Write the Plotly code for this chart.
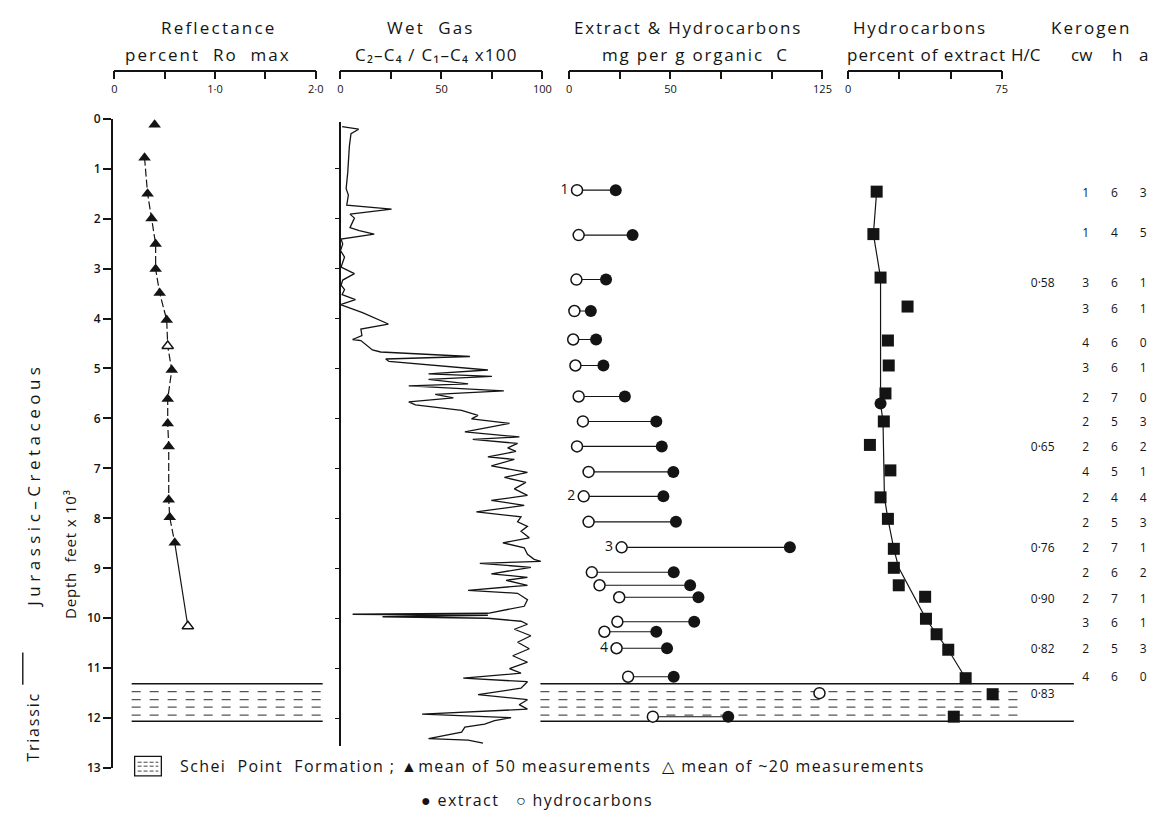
import plotly.graph_objects as go

# ---------------- data ----------------
DEPTH_TICKS = list(range(0, 14))

# Vitrinite reflectance (percent Ro max) vs depth (feet x 10^3)
ro_depth = [0.12, 0.78, 1.50, 2.00, 2.51, 3.01, 3.49, 4.03, 4.55, 5.03, 5.61, 6.10, 6.56, 7.63, 7.98, 8.49, 10.16]
ro_value = [0.40, 0.30, 0.33, 0.37, 0.41, 0.41, 0.45, 0.52, 0.53, 0.57, 0.53, 0.53, 0.54, 0.54, 0.55, 0.60, 0.73]
ro_basis = ["50", "50", "50", "50", "50", "50", "50", "50", "20", "50", "50", "50", "50", "50", "50", "50", "20"]
ro_major = [0, 1.0, 2.0]
ro_major_text = ["0", "1·0", "2·0"]
ro_minor = [0.5, 1.5]

# Wet gas C2-C4/C1-C4 x100
wg_value = [0.8, 9.0, 5.2, 4.4, 3.6, 2.8, 3.9, 3.1, 25.3, 4.7, 6.9, 4.7, 9.3, 16.7, 0.3, 1.1, 0.0, 2.0, 0.3, 6.9,
            1.1, 0.3, 2.0, 0.8, 7.4, 0.0, 10.9, 23.7, 10.1, 10.6, 6.0, 10.1, 15.8, 19.9, 64.1, 22.4, 24.0, 73.0, 43.6, 75.0,
            43.6, 63.2, 33.8, 57.5, 80.9, 46.9, 55.9, 33.8, 37.1, 60.0, 68.1, 64.9, 83.7, 61.6, 88.6, 65.5, 87.7, 82.8, 86.9, 73.0,
            86.1, 74.7, 92.6, 81.2, 91.8, 86.1, 92.6, 74.7, 91.0, 67.3, 89.4, 87.7, 92.6, 89.4, 93.5, 80.4, 91.0, 92.6, 95.9, 99.2,
            69.0, 94.3, 74.7, 92.6, 82.0, 92.6, 63.2, 87.7, 92.6, 91.0, 73.0, 6.0, 73.0, 20.8, 73.0, 89.4, 92.6, 86.1, 94.3, 87.7,
            93.5, 85.3, 92.6, 83.7, 89.4, 60.8, 92.6, 89.4, 68.1, 92.6, 88.5, 92.6, 40.4, 84.5, 76.3, 71.4, 61.6, 60.0, 51.8, 43.6,
            63.2, 70.6]
wg_depth = [0.16, 0.21, 0.30, 0.55, 1.07, 1.40, 1.53, 1.73, 1.81, 1.91, 1.99, 2.18, 2.24, 2.31, 2.41, 2.51, 2.64, 2.77, 2.97, 3.10,
            3.23, 3.33, 3.42, 3.52, 3.62, 3.72, 3.88, 4.11, 4.21, 4.34, 4.42, 4.44, 4.63, 4.67, 4.76, 4.81, 4.86, 5.03, 5.11, 5.16,
            5.22, 5.31, 5.35, 5.40, 5.45, 5.52, 5.59, 5.67, 5.73, 5.84, 5.94, 6.01, 6.10, 6.27, 6.37, 6.42, 6.50, 6.59, 6.66, 6.77,
            6.82, 6.95, 7.08, 7.18, 7.28, 7.41, 7.54, 7.64, 7.74, 7.87, 7.97, 8.07, 8.16, 8.26, 8.39, 8.49, 8.59, 8.72, 8.82, 8.86,
            8.90, 8.98, 9.11, 9.18, 9.24, 9.34, 9.44, 9.50, 9.63, 9.76, 9.90, 9.92, 9.94, 9.97, 10.00, 10.06, 10.12, 10.22, 10.35, 10.48,
            10.61, 10.75, 10.88, 11.01, 11.10, 11.20, 11.27, 11.40, 11.53, 11.63, 11.73, 11.82, 11.92, 11.99, 12.05, 12.12, 12.18, 12.28, 12.35, 12.41,
            12.44, 12.50]
wg_major = [0, 50, 100]
wg_major_text = ["0", "50", "100"]
wg_minor = [25, 75]

# Extract & hydrocarbons, mg per g organic C
ext_depth = [1.43, 2.33, 3.22, 3.85, 4.42, 4.94, 5.56, 6.06, 6.56, 7.07, 7.56, 8.07, 8.58, 9.08, 9.34, 9.58, 10.07, 10.27, 10.60, 11.17, 11.50, 11.97]
ext_extract = [23.0, 31.3, 18.2, 10.7, 13.3, 16.9, 27.5, 43.0, 45.7, 51.4, 46.5, 52.7, 108.9, 51.6, 59.7, 63.8, 61.7, 43.0, 48.3, 51.6, None, 78.5]
ext_hydro = [3.9, 4.7, 3.6, 2.6, 2.0, 3.1, 4.7, 6.8, 3.9, 9.6, 7.2, 9.6, 25.9, 11.2, 15.0, 24.7, 23.8, 17.4, 23.4, 29.1, 123.5, 41.3]
ext_sample = ["1", "", "", "", "", "", "", "", "", "", "2", "", "3", "", "", "", "", "", "4", "", "", ""]
ext_major = [0, 50, 125]
ext_major_text = ["0", "50", "125"]
ext_minor = [25, 75, 100]

# Hydrocarbons, percent of extract
hc_depth = [1.46, 2.31, 3.18, 3.76, 4.44, 4.94, 5.50, 6.06, 6.53, 7.04, 7.58, 8.01, 8.61, 8.99, 9.34, 9.57, 10.01, 10.32, 10.63, 11.20, 11.52, 11.97]
hc_pct = [13.9, 12.3, 15.8, 29.0, 19.4, 19.8, 18.2, 17.4, 10.6, 20.6, 15.8, 19.4, 22.3, 22.3, 24.7, 37.6, 38.0, 43.2, 48.9, 57.4, 70.6, 51.6]
hc_trend_depth = [1.46, 2.31, 3.18, 5.70, 6.06, 7.04, 7.58, 8.01, 8.61, 8.99, 10.01, 10.32, 10.63, 11.20]
hc_trend_pct = [13.9, 12.3, 15.8, 15.8, 17.0, 17.6, 17.7, 19.4, 22.3, 24.7, 38.0, 43.2, 48.9, 57.4]
hc_circle_depth = [5.70]
hc_circle_pct = [15.8]
hc_major = [0, 75]
hc_major_text = ["0", "75"]
hc_minor = [25, 50]

# Kerogen: H/C ratio and cw / h / a
ker_depth = [1.50, 2.31, 3.31, 3.82, 4.50, 5.01, 5.61, 6.10, 6.59, 7.10, 7.62, 8.11, 8.62, 9.12, 9.63, 10.12, 10.63, 11.20]
ker_cw = [1, 1, 3, 3, 4, 3, 2, 2, 2, 4, 2, 2, 2, 2, 2, 3, 2, 4]
ker_h = [6, 4, 6, 6, 6, 6, 7, 5, 6, 5, 4, 5, 7, 6, 7, 6, 5, 6]
ker_a = [3, 5, 1, 1, 0, 1, 0, 3, 2, 1, 4, 3, 1, 2, 1, 1, 3, 0]
hc_ratio_depth = [3.31, 6.59, 8.62, 9.63, 10.63, 11.53]
hc_ratio = ["0·58", "0·65", "0·76", "0·90", "0·82", "0·83"]

# Schei Point Formation boundaries (depth)
schei_solid = [11.31, 12.06]
schei_dashed = [11.47, 11.63, 11.78, 11.94]

# ---------------- layout helpers ----------------
W, H = 1169, 830
def X(p):
    return p / W
def Y(p):
    return 1 - p / H

INK = "#141414"
FONT = "Open Sans, sans-serif"
def sp(t, s=1.6):
    return f'<span style="letter-spacing:{s}px">{t}</span>'

fig = go.Figure()

# wet gas curve
fig.add_trace(go.Scatter(x=wg_value, y=wg_depth, xaxis="x2", yaxis="y2", mode="lines",
                         line=dict(color=INK, width=1.3), hoverinfo="skip"))

# reflectance
fig.add_trace(go.Scatter(x=ro_value[1:16], y=ro_depth[1:16], xaxis="x", yaxis="y", mode="lines",
                         line=dict(color=INK, width=1.2, dash="8px,3px")))
fig.add_trace(go.Scatter(x=ro_value[15:], y=ro_depth[15:], xaxis="x", yaxis="y", mode="lines",
                         line=dict(color=INK, width=1.2)))
i50 = [i for i, b in enumerate(ro_basis) if b == "50"]
i20 = [i for i, b in enumerate(ro_basis) if b == "20"]
fig.add_trace(go.Scatter(x=[ro_value[i] for i in i50], y=[ro_depth[i] for i in i50], xaxis="x", yaxis="y",
                         mode="markers", cliponaxis=False,
                         marker=dict(symbol="triangle-up", size=11, color=INK, line=dict(width=0))))
fig.add_trace(go.Scatter(x=[ro_value[i] for i in i20], y=[ro_depth[i] for i in i20], xaxis="x", yaxis="y",
                         mode="markers", cliponaxis=False,
                         marker=dict(symbol="triangle-up", size=10, color="white",
                                     line=dict(color=INK, width=1.4))))

# extract & hydrocarbons connectors
cx, cy = [], []
for d, e, h in zip(ext_depth, ext_extract, ext_hydro):
    if e is None:
        continue
    cx += [h, e, None]
    cy += [d, d, None]
fig.add_trace(go.Scatter(x=cx, y=cy, xaxis="x3", yaxis="y", mode="lines", line=dict(color=INK, width=1.1)))
fig.add_trace(go.Scatter(x=ext_hydro, y=ext_depth, xaxis="x3", yaxis="y", mode="markers", cliponaxis=False,
                         marker=dict(symbol="circle", size=11, color="white", line=dict(color=INK, width=1.5))))
fig.add_trace(go.Scatter(x=[e for e in ext_extract if e is not None],
                         y=[d for d, e in zip(ext_depth, ext_extract) if e is not None],
                         xaxis="x3", yaxis="y", mode="markers", cliponaxis=False,
                         marker=dict(symbol="circle", size=12, color=INK)))
lab = [i for i, s in enumerate(ext_sample) if s]
fig.add_trace(go.Scatter(x=[ext_hydro[i] for i in lab], y=[ext_depth[i] for i in lab], xaxis="x3", yaxis="y",
                         mode="markers+text", cliponaxis=False,
                         text=[ext_sample[i] for i in lab], textposition="middle left",
                         textfont=dict(size=14, color=INK, family=FONT),
                         marker=dict(size=12, opacity=0)))

# hydrocarbons percent of extract
fig.add_trace(go.Scatter(x=hc_trend_pct, y=hc_trend_depth, xaxis="x4", yaxis="y", mode="lines",
                         line=dict(color=INK, width=1.2)))
fig.add_trace(go.Scatter(x=hc_pct, y=hc_depth, xaxis="x4", yaxis="y", mode="markers", cliponaxis=False,
                         marker=dict(symbol="square", size=12, color=INK)))
fig.add_trace(go.Scatter(x=hc_circle_pct, y=hc_circle_depth, xaxis="x4", yaxis="y", mode="markers",
                         cliponaxis=False, marker=dict(symbol="circle", size=12, color=INK)))

# kerogen columns (column positions are layout choices)
COL = {"H/C": -0.5, "cw": 1, "h": 2, "a": 3}
kfont = dict(size=12, color=INK, family=FONT)
for key, vals in (("cw", ker_cw), ("h", ker_h), ("a", ker_a)):
    fig.add_trace(go.Scatter(x=[COL[key]] * len(vals), y=ker_depth, xaxis="x5", yaxis="y", mode="text",
                             cliponaxis=False, text=[str(v) for v in vals], textfont=kfont))
fig.add_trace(go.Scatter(x=[COL["H/C"]] * len(hc_ratio), y=hc_ratio_depth, xaxis="x5", yaxis="y", mode="text",
                         cliponaxis=False, text=hc_ratio, textfont=kfont))

# ---------------- axes ----------------
def top_axis(domain, rng, major, major_text, minor):
    return dict(domain=domain, range=rng, anchor="free", position=Y(63), side="bottom",
                showline=True, linecolor=INK, linewidth=1.5,
                tickmode="array", tickvals=major, ticktext=major_text,
                ticks="outside", ticklen=8, tickwidth=1.5, tickcolor=INK,
                minor=dict(tickmode="array", tickvals=minor, ticks="outside", ticklen=8, tickwidth=1.5,
                           tickcolor=INK, showgrid=False),
                showgrid=False, zeroline=False, tickfont=dict(size=11, color=INK), fixedrange=True)

fig.update_layout(
    width=W, height=H, margin=dict(l=0, r=0, t=0, b=0),
    paper_bgcolor="white", plot_bgcolor="white", showlegend=False,
    font=dict(family=FONT, color=INK),
    xaxis=top_axis([X(112.5), X(316)], [0, 2], ro_major, ro_major_text, ro_minor),
    xaxis2=top_axis([X(341), X(545)], [0, 100], wg_major, wg_major_text, wg_minor),
    xaxis3=top_axis([X(572), X(828)], [0, 125], ext_major, ext_major_text, ext_minor),
    xaxis4=top_axis([X(854), X(1009)], [0, 75], hc_major, hc_major_text, hc_minor),
    xaxis5=dict(domain=[X(1020), X(1166)], range=[-1.55, 3.48], visible=False, anchor="free", position=0),
    yaxis=dict(domain=[Y(775), Y(112)], range=[13, 0], anchor="free", position=X(110), showline=True,
               linecolor=INK, linewidth=1.6, ticks="outside", ticklen=8, tickwidth=1.5, tickcolor=INK,
               tickmode="array", tickvals=DEPTH_TICKS, tickfont=dict(size=12, color=INK, weight=600),
               showgrid=False, zeroline=False, fixedrange=True),
    yaxis2=dict(domain=[Y(752), Y(115)], range=[(752 - 112) / 51.0, (115 - 112) / 51.0], anchor="free",
                position=X(341), showline=True, linecolor=INK, linewidth=1.5, ticks="outside", ticklen=5,
                tickwidth=1.4, tickcolor=INK, tickmode="array", tickvals=DEPTH_TICKS[1:13],
                showticklabels=False, showgrid=False, zeroline=False, fixedrange=True),
)

# ---------------- Schei Point Formation band ----------------
shapes = []
for (x0, x1d, x1s) in ((130, 323, 323), (543, 1025, 1082)):
    for d in schei_solid:
        shapes.append(dict(type="line", xref="paper", yref="y", x0=X(x0), x1=X(x1s), y0=d, y1=d,
                           line=dict(color=INK, width=1.5), layer="below"))
    for d in schei_dashed:
        shapes.append(dict(type="line", xref="paper", yref="y", x0=X(x0), x1=X(x1d), y0=d, y1=d,
                           line=dict(color="#555", width=1.2, dash="dash"), layer="below"))
# stratigraphic separator (thin vertical bar between the two age labels)
shapes.append(dict(type="rect", xref="paper", yref="paper", x0=X(19.3), x1=X(20.7), y0=Y(690), y1=Y(657),
                   fillcolor=INK, line=dict(width=0)))
# legend glyph (box with dashes)
shapes.append(dict(type="rect", xref="paper", yref="paper", x0=X(133), x1=X(160), y0=Y(783), y1=Y(763),
                   line=dict(color=INK, width=1.3)))
for yy in (769, 773, 778):
    shapes.append(dict(type="line", xref="paper", yref="paper", x0=X(136), x1=X(157), y0=Y(yy), y1=Y(yy),
                       line=dict(color="#444", width=1, dash="4px,2px")))
fig.update_layout(shapes=shapes)

# ---------------- text ----------------
def note(text, x, y, size=16, xanchor="center", angle=0):
    fig.add_annotation(text=text, x=X(x), y=Y(y), xref="paper", yref="paper", showarrow=False,
                       font=dict(size=size, color=INK, family=FONT), xanchor=xanchor, yanchor="middle",
                       textangle=angle)

note(sp("Reflectance", 2.2), 218, 19, size=17)
note(sp("percent  Ro  max", 2.0), 207, 46, size=17)
note(sp("Wet  Gas", 2.2), 432, 19, size=17)
note(sp("C₂–C₄ / C₁–C₄ x100", 1.2), 438, 46, size=17)
note(sp("Extract &amp; Hydrocarbons", 1.8), 692, 19, size=17)
note(sp("mg per g organic  C", 1.8), 700, 46, size=17)
note(sp("Hydrocarbons", 1.8), 927, 19, size=17)
note(sp("percent of extract", 1.0), 933, 46, size=17)
note(sp("Kerogen", 2.0), 1099, 19, size=17)
note("H/C", 1034, 46, size=17)
note("cw", 1090, 46, size=17)
note("h", 1126, 46, size=17)
note("a", 1152, 46, size=17)

note(sp("Depth  feet x 10³", 0.8), 67, 556, size=15, angle=-90)
note(sp("Jurassic–Cretaceous", 4.5), 30, 486, size=17, angle=-90)
note(sp("Triassic", 1.8), 30, 733, angle=-90)

note(sp("Schei  Point  Formation ; ▲mean of 50 measurements  △ mean of ~20 measurements", 1.4), 177, 773,
     size=16, xanchor="left")
note(sp("● extract   ○ hydrocarbons", 1.4), 540, 808, size=16)

fig.write_html("out.html")
